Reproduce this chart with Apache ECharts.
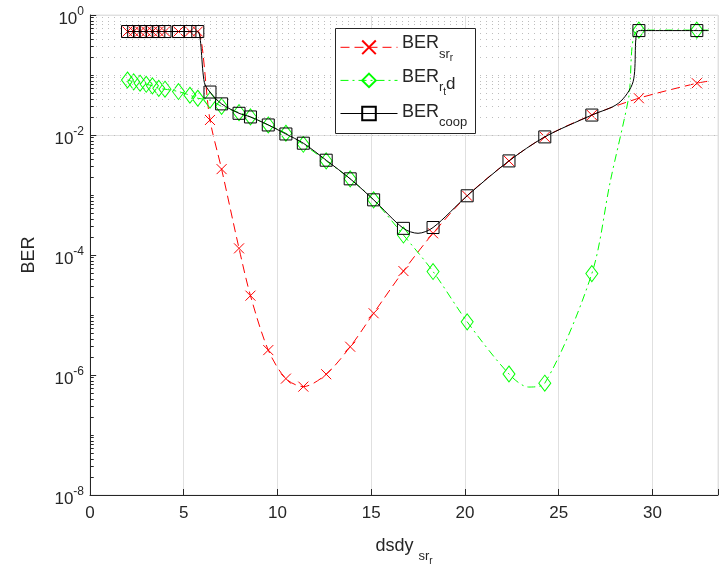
<!DOCTYPE html>
<html>
<head>
<meta charset="utf-8">
<script src="https://cdn.jsdelivr.net/npm/echarts@6/dist/echarts.min.js"></script>
<style>html,body{margin:0;padding:0;background:#fff}#c{width:720px;height:565px}</style>
</head>
<body>
<div id="c"></div>
<script>
// ---- data ----
const xVals = [2.0, 2.33, 2.67, 3.0, 3.33, 3.67, 4.0, 4.72, 5.33, 5.75,
  6.4, 7.02, 7.95, 8.56, 9.51, 10.45, 11.38, 12.6, 13.88, 15.13, 16.72, 18.3, 20.12, 22.35, 24.26, 26.77, 29.28, 32.37];
const berSr = [0.53, 0.53, 0.53, 0.53, 0.53, 0.53, 0.53, 0.53, 0.53, 0.53,
  0.0178, 2.7e-3, 1.29e-4, 2.1e-5, 2.6e-6, 8.7e-7, 6.4e-7, 1.03e-6, 2.96e-6, 1.07e-5, 5.4e-5, 2.3e-4, 9.7e-4, 3.7e-3, 9.3e-3, 0.0215, 0.041, 0.073];
const berRtd = [0.0826, 0.077, 0.073, 0.070, 0.066, 0.060, 0.058, 0.053, 0.046, 0.041,
  0.038, 0.030, 0.0236, 0.020, 0.0147, 0.0107, 0.0070, 0.0037, 0.00186, 8.3e-4, 2.15e-4, 5.3e-5, 7.7e-6, 1.04e-6, 7.3e-7, 4.9e-5, 0.56, 0.56];
const berCoop = [0.53, 0.53, 0.53, 0.53, 0.53, 0.53, 0.53, 0.53, 0.53, 0.53,
  0.052, 0.033, 0.023, 0.020, 0.0147, 0.0104, 0.0073, 0.0038, 0.00186, 8.3e-4, 2.78e-4, 2.87e-4, 9.7e-4, 3.7e-3, 9.3e-3, 0.0215, 0.55, 0.55];
// extra curve points without markers
const srCurveX = [33.0];
const srCurveY = [0.079];
const rtdCurveX = [23.4, 27.75, 28.73, 33.0];
const rtdCurveY = [6.3e-7, 1.66e-3, 0.041, 0.56];
const coopCurveX = [6.1, 17.5, 28.2, 28.97, 33.0];
const coopCurveY = [0.075, 2.3e-4, 0.034, 0.077, 0.55];
const xTicks = [0, 5, 10, 15, 20, 25, 30];
const legendNames = ['BER_sr', 'BER_rtd', 'BER_coop'];
const legendLabels = ['{m|BER}{s|sr}{ss|r}', '{m|BER}{s|r}{ss|t}{d|d}', '{m|BER}{s|coop}'];

function build(xs, ys, cx, cy) {
  const pts = xs.map((x, i) => ({ value: [x, ys[i]] }));
  cx.forEach((x, i) => pts.push({ value: [x, cy[i]], symbol: 'none' }));
  pts.sort((a, b) => a.value[0] - b.value[0]);
  return pts;
}

// grid / tick helpers (minor log grid)
const majorGrid = [], minorGrid = [], majorTicks = [], minorTicks = [];
for (let k = -8; k <= 0; k++) {
  const v = Math.pow(10, k);
  if (k % 2 === 0) { if (k > -8) majorGrid.push({ yAxis: v }); majorTicks.push([{ coord: [0, v] }, { coord: [0.33, v] }]); }
  else { minorGrid.push({ yAxis: v }); minorTicks.push([{ coord: [0, v] }, { coord: [0.2, v] }]); }
  if (k < 0) for (let m = 2; m <= 9; m++) {
    const w = m * v;
    minorGrid.push({ yAxis: w });
    minorTicks.push([{ coord: [0, w] }, { coord: [0.2, w] }]);
  }
}

const FONT = '"Liberation Sans", Arial, sans-serif';
const TXT = '#262626';
const subRich = {
  m: { fontSize: 18, lineHeight: 20, padding: [0, 0, 10, 0], verticalAlign: 'top', fontFamily: FONT, fill: TXT, color: TXT },
  s: { fontSize: 13, lineHeight: 14, padding: [13, 0, 3, 0], verticalAlign: 'top', fontFamily: FONT, fill: TXT, color: TXT },
  ss: { fontSize: 10, lineHeight: 11, padding: [19, 0, 0, 0], verticalAlign: 'top', fontFamily: FONT, fill: TXT, color: TXT },
  d: { fontSize: 17, lineHeight: 18, padding: [8, 0, 4, 0], verticalAlign: 'top', fontFamily: FONT, fill: TXT, color: TXT }
};
const legendTextTops = [34.5, 68, 103];

const helperData = [[0, 1e-8], [33.5, 1e-8]];
const option = {
  animation: false,
  backgroundColor: '#fff',
  grid: { left: 90, right: 2, top: 15, bottom: 70, show: true, borderColor: '#e2e2e2', borderWidth: 1, outerBoundsMode: 'none', containLabel: false },
  graphic: [{
    type: 'rect', left: 335, top: 28, z: 20, silent: true,
    shape: { width: 140, height: 105 },
    style: { fill: '#fff', stroke: TXT, lineWidth: 1 }
  }].concat(legendLabels.map((t, i) => ({
    type: 'text', left: 402, top: legendTextTops[i], z: 31, silent: true,
    style: { text: t, rich: subRich, fill: TXT, font: '18px ' + FONT }
  }))),
  legend: {
    data: legendNames, z: 30,
    orient: 'vertical', left: 340, top: 39.5,
    padding: 0, itemGap: 17.5, itemWidth: 57, itemHeight: 17,
    lineStyle: { width: 1 },
    formatter: () => ' ',
    textStyle: { fontSize: 1 }
  },
  xAxis: {
    type: 'value', min: 0, max: 33.5, interval: 5,
    name: '{m|dsdy }{s|sr}{ss|r}', nameLocation: 'middle', nameGap: 42,
    nameTextStyle: { rich: subRich },
    axisLine: { lineStyle: { color: TXT, width: 1 } },
    axisTick: { inside: true, length: 6, lineStyle: { color: TXT } },
    axisLabel: { fontSize: 17, color: TXT, fontFamily: FONT, margin: 10,
      formatter: v => (xTicks.indexOf(v) >= 0 ? String(v) : '') },
    splitLine: { show: true, lineStyle: { color: '#e0e0e0', width: 1 } }
  },
  yAxis: {
    type: 'log', logBase: 10, min: 1e-8, max: 1,
    name: 'BER', nameLocation: 'middle', nameGap: 52, nameRotate: 90,
    nameTextStyle: { fontSize: 18, color: TXT, fontFamily: FONT },
    axisLine: { show: true, lineStyle: { color: TXT, width: 1 } },
    axisTick: { show: false },
    splitLine: { show: false },
    axisLabel: {
      margin: 6, fontFamily: FONT, color: TXT,
      formatter: v => {
        const e = Math.round(Math.log10(v));
        if (e % 2 !== 0) return '';
        return '{b|10}{e|' + (e === 0 ? '0' : String(e)) + '}';
      },
      rich: {
        b: { fontSize: 17, lineHeight: 18, padding: [5, 0, 0, 0], verticalAlign: 'top', fontFamily: FONT, color: TXT },
        e: { fontSize: 12, lineHeight: 12, verticalAlign: 'top', fontFamily: FONT, color: TXT }
      }
    }
  },
  series: [
    {
      name: 'grid', type: 'line', data: helperData, symbol: 'none', silent: true, z: 1,
      lineStyle: { opacity: 0 },
      markLine: {
        silent: true, symbol: ['none', 'none'], label: { show: false }, animation: false,
        data: majorGrid.map(d => Object.assign({ lineStyle: { color: '#e0e0e0', type: 'solid', width: 1 } }, d))
          .concat(minorGrid.map(d => Object.assign({ lineStyle: { color: '#bdbdbd', type: [1, 5], width: 1 } }, d)))
          .concat(majorTicks.map(d => [Object.assign({ lineStyle: { color: TXT, type: 'solid', width: 1 } }, d[0]), d[1]]))
          .concat(minorTicks.map(d => [Object.assign({ lineStyle: { color: TXT, type: 'solid', width: 1 } }, d[0]), d[1]])),
        emphasis: { disabled: true }
      }
    },
    {
      name: 'BER_sr', type: 'line', z: 3, smooth: 0.3,
      data: build(xVals, berSr, srCurveX, srCurveY),
      symbol: 'path://M0,0L10,10M10,0L0,10', symbolSize: 10,
      itemStyle: { color: 'rgba(255,0,0,0)', borderColor: '#ff0000', borderWidth: 1 },
      lineStyle: { color: '#ff0000', width: 1, type: [9, 5] }
    },
    {
      name: 'BER_rtd', type: 'line', z: 4, smooth: 0.3,
      data: build(xVals, berRtd, rtdCurveX, rtdCurveY),
      symbol: 'diamond', symbolSize: [12, 16],
      itemStyle: { color: 'rgba(0,255,0,0)', borderColor: '#00ff00', borderWidth: 1 },
      lineStyle: { color: '#00ff00', width: 1, type: [8, 4, 2, 4] }
    },
    {
      name: 'BER_coop', type: 'line', z: 5, smooth: 0.3,
      data: build(xVals, berCoop, coopCurveX, coopCurveY),
      symbol: 'rect', symbolSize: 12,
      itemStyle: { color: 'rgba(0,0,0,0)', borderColor: '#000000', borderWidth: 1 },
      lineStyle: { color: '#000000', width: 1 }
    }
  ]
};
const chart = echarts.init(document.getElementById('c'), null, { renderer: 'canvas' });
chart.setOption(option);
</script>
</body>
</html>
